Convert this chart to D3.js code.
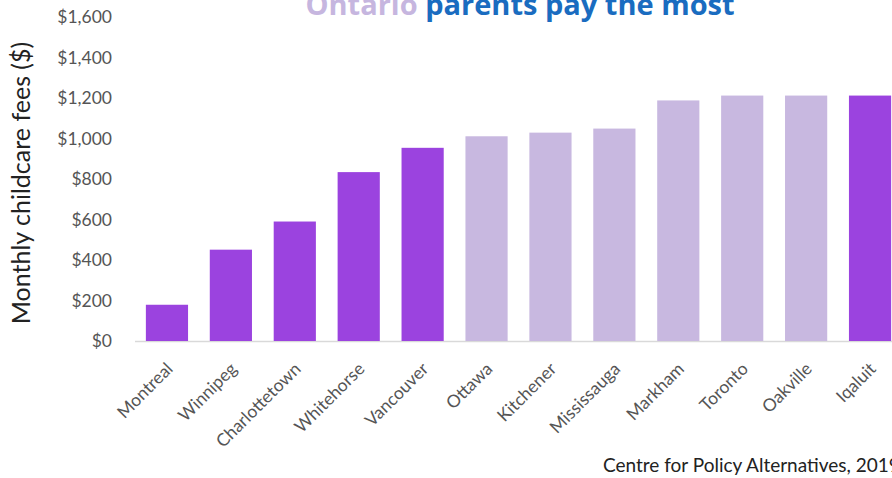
<!DOCTYPE html>
<html><head><meta charset="utf-8">
<script src="https://cdn.jsdelivr.net/npm/d3@7"></script>
<style>body{margin:0;background:#fff;overflow:hidden}svg{display:block}</style>
</head><body>
<script>
const cities = ["Montreal","Winnipeg","Charlottetown","Whitehorse","Vancouver","Ottawa","Kitchener","Mississauga","Markham","Toronto","Oakville","Iqaluit"];
const fees = [179,451,590,834,954,1011,1029,1049,1188,1212,1212,1212];
const ontario = [false,false,false,false,false,true,true,true,true,true,true,false];
const yTicks = [0,200,400,600,800,1000,1200,1400,1600];

const W=892,H=478;
const svg=d3.select("body").append("svg").attr("width",W).attr("height",H);
const x=d3.scaleBand().domain(cities).range([135,902]).paddingInner(0.34).paddingOuter(0.17);
const y=d3.scaleLinear().domain([0,1600]).range([341,17]);

// title
const t=svg.append("text").attr("x",520).attr("y",15).attr("text-anchor","middle")
  .style("font-family","Open Sans, sans-serif").style("font-weight","bold").style("font-size","29px");
t.append("tspan").attr("fill","#c6b6df").text("Ontario ");
t.append("tspan").attr("fill","#1a6cc0").text("parents pay the most");

// y axis labels
const ya=svg.append("g").attr("transform","translate(112,0)")
  .call(d3.axisLeft(y).tickValues(yTicks).tickSize(0).tickPadding(0).tickFormat(d=>"$"+d3.format(",")(d)));
ya.select(".domain").remove();
ya.selectAll("text").style("font-family","Lato, sans-serif").style("font-size","17.5px").attr("fill","#555");

// baseline
svg.append("line").attr("x1",135).attr("x2",W).attr("y1",341.5).attr("y2",341.5).attr("stroke","#d9d9d9").attr("stroke-width",1.5);

// bars
svg.selectAll("rect.bar").data(cities).join("rect").attr("class","bar")
  .attr("x",d=>x(d)).attr("width",x.bandwidth())
  .attr("y",(d,i)=>y(fees[i])).attr("height",(d,i)=>y(0)-y(fees[i]))
  .attr("fill",(d,i)=>ontario[i]?"#c8b8e0":"#9b43df");

// x labels
const xa=svg.append("g").attr("transform","translate(0,341)")
  .call(d3.axisBottom(x).tickSize(0).tickPadding(0));
xa.select(".domain").remove();
xa.selectAll("text").attr("text-anchor","end").attr("dy",0)
  .attr("transform","translate(7,29) rotate(-45)")
  .style("font-family","Lato, sans-serif").style("font-size","17.5px").attr("fill","#555");

// y title
svg.append("text").attr("transform","translate(30,183) rotate(-90)").attr("text-anchor","middle")
  .style("font-family","Lato, sans-serif").style("font-size","25px").attr("fill","#222")
  .text("Monthly childcare fees ($)");

// source
svg.append("text").attr("x",603).attr("y",472).style("font-family","Lato, sans-serif")
  .style("font-size","19px").attr("fill","#222").text("Centre for Policy Alternatives, 2019");
</script>
</body></html>
